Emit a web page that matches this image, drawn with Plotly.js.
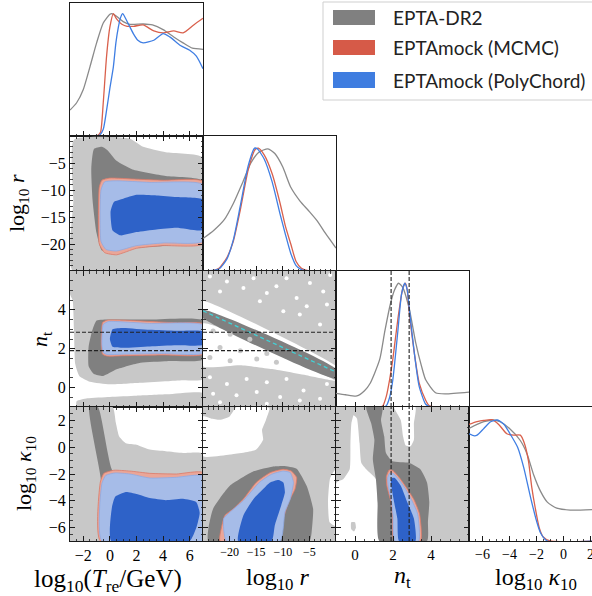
<!DOCTYPE html>
<html><head><meta charset="utf-8">
<script src="https://cdn.plot.ly/plotly-3.0.1.min.js"></script>
<style>html,body{margin:0;padding:0;background:#fff;}#plot{width:592px;height:596px;}</style>
</head><body><div id="plot"></div>
<script>
// ---------- tick labels ----------
const T_ticks = [-2, 0, 2, 4, 6];
const r_ticks = [-20, -15, -10, -5];
const n_ticks = [0, 2, 4];
const k_ticks = [-6, -4, -2, 0, 2];
const nt_marks = [1.9, 2.85];

// ---------- 1D marginals (normalised density) ----------
const T_gray_x = [-3,-2.5,-2,-1.5,-1,-0.5,0,0.15,0.5,1,1.5,2.5,3.2,4,4.8,5.5,6.2,7];
const T_gray_y = [0.195,0.25,0.35,0.52,0.7,0.85,0.915,0.92,0.9,0.86,0.84,0.842,0.835,0.8,0.745,0.7,0.66,0.652];
const T_red_x = [-3,-1.2,-0.9,-0.7,-0.5,-0.25,0,0.26,0.5,0.9,1.3,1.8,2.5,3.3,4.0,4.8,5.5,6.3,7];
const T_red_y = [0,0,0.005,0.03,0.25,0.6,0.82,0.92,0.88,0.84,0.825,0.825,0.835,0.79,0.775,0.79,0.775,0.835,0.885];
const T_blue_x = [-3,-1,-0.74,-0.5,-0.24,0,0.26,0.45,0.64,0.8,0.96,1.2,1.76,2.1,2.5,3.3,4.0,4.5,5.3,6.0,6.5,7];
const T_blue_y = [0,0,0.01,0.05,0.2,0.36,0.52,0.7,0.82,0.89,0.92,0.88,0.77,0.72,0.70,0.72,0.77,0.745,0.68,0.645,0.6,0.506];

const r_gray_x = [-25,-23,-21,-19.3,-17.5,-16,-14.5,-12.8,-11.5,-10,-8.5,-6.8,-5,-3.5,-2,0];
const r_gray_y = [0.24,0.30,0.38,0.50,0.66,0.80,0.88,0.905,0.87,0.77,0.62,0.52,0.44,0.37,0.28,0.17];
const r_red_x = [-25,-23,-22,-20.5,-19.3,-18,-16.5,-15.2,-14.6,-13.5,-12,-10.5,-9.5,-8.5,-7.5,-6.5,-5,0];
const r_red_y = [0,0.005,0.02,0.1,0.22,0.45,0.75,0.9,0.91,0.86,0.72,0.5,0.33,0.2,0.07,0.02,0,0];
const r_blue_x = [-25,-22,-20.5,-19.3,-18,-16.5,-15.3,-14.8,-13.5,-12,-10.5,-9.5,-8.5,-7.5,-6.5,-5,0];
const r_blue_y = [0,0.015,0.09,0.23,0.48,0.78,0.91,0.905,0.83,0.66,0.42,0.27,0.13,0.04,0.01,0,0];

const n_gray_x = [-1,-0.5,0.1,0.5,0.8,1.3,1.56,1.85,2.08,2.29,2.51,2.86,3.2,3.5,3.72,4.24,4.76,6];
const n_gray_y = [0.10,0.09,0.081,0.12,0.175,0.35,0.55,0.75,0.86,0.91,0.88,0.72,0.47,0.3,0.2,0.105,0.097,0.11];
const n_red_x = [-1,1.3,1.47,1.65,1.82,1.99,2.25,2.51,2.65,2.75,2.86,3.12,3.38,3.72,3.9,4.2,6];
const n_red_y = [0,0,0.01,0.08,0.2,0.35,0.64,0.87,0.91,0.86,0.69,0.40,0.175,0.05,0.01,0,0];
const n_blue_x = [-1,1.5,1.65,1.82,1.99,2.25,2.45,2.62,2.75,2.86,3.12,3.38,3.72,3.9,4.2,6];
const n_blue_y = [0,0,0.01,0.07,0.2,0.55,0.83,0.91,0.86,0.72,0.40,0.15,0.02,0.005,0,0];

const k_gray_x = [-7,-6.4,-5.9,-5.2,-4.7,-4.0,-3.2,-2.7,-2.2,-1.7,-1.2,-0.5,0.5,2.2];
const k_gray_y = [0.84,0.87,0.89,0.903,0.89,0.84,0.75,0.65,0.49,0.37,0.29,0.245,0.231,0.235];
const k_red_x = [-7,-6.4,-5.9,-5.3,-4.8,-4.2,-3.7,-3.2,-2.9,-2.6,-2.35,-2.1,-1.8,-1.5,-1.0,2.2];
const k_red_y = [0.87,0.89,0.9,0.905,0.87,0.8,0.79,0.79,0.73,0.6,0.4,0.25,0.1,0.03,0,0];
const k_blue_x = [-7,-6.6,-6.4,-5.9,-5.4,-4.9,-4.4,-3.9,-3.4,-2.95,-2.45,-2.0,-1.7,-1.2,2.2];
const k_blue_y = [0.8,0.785,0.79,0.84,0.89,0.903,0.87,0.79,0.70,0.55,0.33,0.15,0.06,0,0];

// ---------- 2D credible regions (outline vertices) ----------
// log10 r vs log10 T_re
const TR_g95 = [[-2.7,-0.7],[1.5,-0.5],[2.5,-2.0],[4.2,-3.0],[7,-4.0],[7,-25],[-2.8,-25],[-2.75,-12]];
const TR_g68 = [[-1.2,-2.4],[-0.6,-2.0],[-0.2,-2.6],[0.5,-4.6],[1.7,-6.2],[4.2,-7.4],[7,-8.3],[7,-19],[0,-21],[-0.6,-21.2],[-1.0,-18],[-1.3,-12],[-1.4,-6]];
const TR_r95 = [[-0.8,-9.5],[-0.6,-8.2],[0,-7.8],[2,-8.0],[4,-8.2],[7,-8.4],[7,-20.0],[4,-20.3],[2,-20.8],[0.5,-22.0],[-0.4,-21.6],[-0.8,-20]];
const TR_b95 = [[-0.67,-10],[-0.4,-8.5],[0.5,-8.3],[3,-8.6],[7,-9.0],[7,-19.5],[4,-19.8],[2,-20.3],[0.5,-21.3],[-0.3,-21.0],[-0.67,-19.5]];
const TR_b68 = [[0.05,-14],[0.3,-12.2],[1,-11.6],[2,-10.9],[3.5,-11.0],[5,-11.3],[7,-11.8],[7,-17.4],[5,-17.0],[3.5,-17.3],[2,-17.8],[0.8,-18.4],[0.2,-17.5]];
// n_t vs log10 T_re
const TN_g95a = [[-3,6],[7,6],[7,0.43],[5.5,0.38],[4.3,0.33],[2.3,0.25],[0,0.17],[-1.5,0.3],[-2.3,0.6],[-2.6,1.2],[-2.7,3],[-2.8,4.5],[-3,4.8]];
const TN_g95b = [[-2.5,-1],[-2.5,-0.7],[-1.7,-0.55],[0,-0.48],[2,-0.42],[4.3,-0.35],[7,-0.28],[7,-1]];
const TN_g68 = [[-1.0,3.45],[0,3.5],[3,3.5],[7,3.45],[7,1.45],[4.3,1.36],[2.3,1.28],[0.5,0.94],[-0.5,0.6],[-1.2,0.7],[-1.6,1.1],[-1.6,2.1],[-1.3,3.0]];
const TN_r95 = [[-0.65,2.2],[-0.55,3.35],[-0.2,3.47],[1,3.47],[3,3.4],[5,3.33],[7,3.28],[7,1.72],[4,1.68],[1,1.64],[-0.2,1.62],[-0.55,1.72]];
const TN_b95 = [[-0.6,2.2],[-0.5,3.25],[-0.1,3.4],[1,3.38],[3,3.3],[7,3.22],[7,1.78],[4,1.75],[1,1.72],[-0.2,1.7],[-0.5,1.8]];
const TN_b68 = [[0,2.5],[0.2,3.0],[1,3.07],[3,2.97],[5,2.92],[7,2.88],[7,2.2],[5,2.18],[3,2.12],[1,2.05],[0.2,2.1]];
// n_t vs log10 r
const RN_g95 = [[-25,6],[0,6],[0,-1],[-25,-1]];
const RN_wBand = [[-25,4.45],[0,1.1],[0,0.95],[-25,4.0]];
const RN_g68 = [[-25,4.0],[0,0.95],[0,0.45],[-25,3.6]];
const RN_wLow = [[-25,3.3],[-12,1.85],[0,0.35],[-5,0.6],[-12,0.95],[-18,1.15],[-25,1.1]];
const RN_degen_r = [-25, 0];
const RN_degen_n = [3.95, 0.80];
const RN_holes_r = [-23.7,-20.5,-15.5,-9.3,-4.9,-1.1,-21.8,-17.4,-11.2,-13.0,-7.4,-2.4,-5.5,-1.7,-9.9,-6.8,-3.0,-14.3,-23.7,-20.5,-16.8,-13.0,-9.3,-23.1,-18.7,-14.9,-10.5,-6.1,-3.0,-21.8,-13.0,-6.8,-1.7];
const RN_holes_n = [5.72,5.46,5.63,5.63,5.38,5.80,4.95,5.12,5.21,4.87,4.61,4.95,4.19,4.27,3.93,3.76,3.25,4.44,0.53,0.19,0.44,0.28,0.44,-0.32,-0.40,-0.23,-0.49,-0.15,-0.57,-0.75,-0.83,-0.66,0.19];
const RN_blobs_r = [-23.1,-19.9,-16.2,-21.8,-18.0,-13.0,-23.7,-19.9,-14.9,-11.2];
const RN_blobs_n = [2.91,2.74,2.49,2.06,1.89,1.75,1.55,1.38,1.47,1.30];
// log10 kappa10 vs log10 T_re
const TK_g95 = [[-3,3],[0.2,3],[0.45,1.8],[0.7,0.8],[1.2,0.3],[2,0.19],[3,-0.18],[4.2,-0.3],[5.5,-0.43],[7,-0.48],[7,-7],[-3,-7]];
const TK_g68 = [[-1.55,3],[-0.9,3],[0.2,-1.75],[1,-1.9],[3,-2.2],[7,-2.3],[7,-7],[-0.6,-7],[-0.66,-2.5]];
const TK_r95 = [[-0.72,-7],[-0.72,-2.6],[-0.45,-1.95],[0.3,-1.72],[1.5,-1.78],[3,-1.95],[5,-2.0],[7,-1.9],[7,-7]];
const TK_b95 = [[-0.6,-7],[-0.6,-2.7],[-0.3,-2.1],[0.4,-1.92],[1.5,-2.0],[3,-2.3],[5,-2.25],[7,-2.15],[7,-7]];
const TK_b68 = [[0.1,-7],[0.15,-4.5],[0.4,-3.7],[1.2,-3.35],[2,-3.5],[3,-3.8],[4.2,-3.95],[5.5,-3.85],[6.5,-4.1],[6.75,-4.9],[6.5,-6],[6.0,-7]];
// log10 kappa10 vs log10 r
const RK_g95 = [[-25,3],[0,3],[0,-7],[-25,-7]];
const RK_w1 = [[-25,2.3],[-23.5,2.15],[-21.8,2.05],[-20,2.3],[-18.7,3],[-13,3],[-12.5,2.88],[-13.2,2.0],[-13.9,1.3],[-13.7,0.55],[-15,-0.18],[-19.9,-0.55],[-25,-0.67]];
const RK_w2 = [[0,-1.6],[-1.1,-2.3],[-1.5,-4],[-1.2,-5.6],[0,-5.9]];
const RK_g68 = [[-24,-7],[-24,-6.1],[-23.1,-4.6],[-20,-2.9],[-15.5,-1.8],[-12,-1.45],[-9.9,-1.4],[-7.4,-1.6],[-5.5,-2.9],[-4.3,-4.6],[-4.5,-6],[-5,-7]];
const RK_r95 = [[-21.8,-7],[-21.5,-5.94],[-20.9,-5.1],[-19.3,-4.6],[-17.4,-3.86],[-15,-2.63],[-12.4,-1.9],[-9.9,-1.65],[-8.4,-1.78],[-7.4,-2.26],[-7.7,-3.12],[-8.9,-4.1],[-9.9,-5.33],[-10.8,-7]];
const RK_b95 = [[-20.6,-7],[-21.1,-5.33],[-19.9,-4.84],[-17.4,-3.98],[-14.4,-2.63],[-12.1,-2.02],[-9.9,-1.78],[-8.6,-1.9],[-8.0,-2.63],[-8.6,-3.86],[-9.6,-4.84],[-10.5,-7]];
const RK_b68 = [[-18.4,-7],[-17.4,-5.08],[-15.5,-3.86],[-13.7,-3.12],[-12.4,-2.63],[-10.8,-2.44],[-9.9,-2.63],[-9.6,-3.37],[-10.3,-4.35],[-11.5,-5.82],[-12.1,-7]];
// log10 kappa10 vs n_t
const NK_g95 = [[-1,3],[6,3],[6,-7],[-1,-7]];
const NK_wL = [[-0.07,2.39],[0.10,2.15],[0.24,0.31],[0.33,-1.16],[0.59,-1.65],[1.11,-2.39],[1.19,-4.10],[1.28,-7],[-0.97,-7],[-0.97,-2.63],[-0.62,-2.39],[-0.28,-1.65],[-0.24,0.31],[-0.19,1.78]];
const NK_gBlob = [[-0.2,-5.6],[0.0,-5.6],[0.05,-6.0],[-0.05,-6.3],[-0.2,-6.1]];
const NK_wTop = [[2.06,3],[3.18,3],[3.10,1.78],[3.10,0.55],[2.93,0.07],[2.67,0.12],[2.53,0.8],[2.41,2.02]];
const NK_g68 = [[0.59,3],[1.45,3],[1.37,2.02],[1.54,0.80],[1.63,-0.43],[1.97,-1.04],[2.84,-1.16],[3.44,-1.65],[3.79,-2.63],[3.91,-4.10],[3.84,-5.57],[3.79,-7],[1.28,-7],[1.19,-4.10],[1.10,-2.39],[0.94,-0.92],[1.02,0.55],[0.85,1.78]];
const NK_r95 = [[2.06,-7],[1.97,-5.1],[1.89,-4.1],[1.68,-2.9],[1.65,-2.2],[1.80,-1.7],[2.0,-1.75],[2.35,-2.3],[2.7,-3.0],[3.1,-3.9],[3.4,-5.0],[3.45,-7]];
const NK_b95 = [[2.1,-7],[2.0,-5.1],[1.93,-4.1],[1.75,-2.9],[1.72,-2.3],[1.82,-1.95],[2.0,-1.95],[2.3,-2.4],[2.65,-3.1],[3.0,-4.0],[3.3,-5.0],[3.35,-7]];
const NK_b68 = [[2.32,-7],[2.23,-5.33],[2.06,-4.1],[1.89,-2.63],[1.95,-2.3],[2.1,-2.3],[2.41,-2.88],[2.75,-4.1],[3.10,-5.33],[3.18,-7]];

// ---------- styling ----------
const C = {lg:'#c8c8c8', dg:'#808080', rl:'#eaa698', rline:'#dc7a68', bl:'#a6bce8', bline:'#8eaae2', bd:'#2e62c8',
           gline:'#8a8a8a', red:'#d9604c', blue:'#3f7ee3', white:'#ffffff'};
const SERIF = "'Liberation Serif', 'Times New Roman', 'DejaVu Serif', serif";

const traces = [];
function poly(pts, xa, ya, fill, lc, lw) {
  const xs = pts.map(p => p[0]); xs.push(pts[0][0]);
  const ys = pts.map(p => p[1]); ys.push(pts[0][1]);
  traces.push({type:'scatter', mode:'lines', x:xs, y:ys, fill:'toself', fillcolor:fill,
    line:{color: lc || fill, width: lw || 0, shape:'spline', smoothing:0.5}, xaxis:xa, yaxis:ya, hoverinfo:'skip', showlegend:false});
}
function curve(xs, ys, xa, ya, color) {
  traces.push({type:'scatter', mode:'lines', x:xs, y:ys, line:{color:color, width:1.3, shape:'spline', smoothing:0.6},
    xaxis:xa, yaxis:ya, hoverinfo:'skip', showlegend:false});
}
function stack(set, xa, ya) {
  set.forEach(s => poly(s[0], xa, ya, s[1], s[2], s[3]));
}

// Diagonals
curve(T_gray_x, T_gray_y, 'x', 'y', C.gline); curve(T_red_x, T_red_y, 'x', 'y', C.red); curve(T_blue_x, T_blue_y, 'x', 'y', C.blue);
curve(r_gray_x, r_gray_y, 'x3', 'y3', C.gline); curve(r_red_x, r_red_y, 'x3', 'y3', C.red); curve(r_blue_x, r_blue_y, 'x3', 'y3', C.blue);
curve(n_gray_x, n_gray_y, 'x6', 'y6', C.gline); curve(n_red_x, n_red_y, 'x6', 'y6', C.red); curve(n_blue_x, n_blue_y, 'x6', 'y6', C.blue);
curve(k_gray_x, k_gray_y, 'x10', 'y10', C.gline); curve(k_red_x, k_red_y, 'x10', 'y10', C.red); curve(k_blue_x, k_blue_y, 'x10', 'y10', C.blue);

// 2D panels
stack([[TR_g95, C.lg],[TR_g68, C.dg],[TR_r95, C.rl, C.rline, 0.8],[TR_b95, C.bl, C.bline, 0.8],[TR_b68, C.bd]], 'x2', 'y2');
stack([[TN_g95a, C.lg],[TN_g95b, C.lg],[TN_g68, C.dg],[TN_r95, C.rl, C.rline, 0.8],[TN_b95, C.bl, C.bline, 0.8],[TN_b68, C.bd]], 'x4', 'y4');
stack([[RN_g95, C.lg],[RN_wBand, C.white],[RN_wLow, C.white],[RN_g68, C.dg]], 'x5', 'y5');
traces.push({type:'scatter', mode:'markers', x:RN_holes_r, y:RN_holes_n, marker:{color:C.white, size:4, line:{width:0}}, xaxis:'x5', yaxis:'y5', hoverinfo:'skip', showlegend:false});
traces.push({type:'scatter', mode:'markers', x:RN_blobs_r, y:RN_blobs_n, marker:{color:C.lg, size:5, line:{width:0}}, xaxis:'x5', yaxis:'y5', hoverinfo:'skip', showlegend:false});
traces.push({type:'scatter', mode:'lines', x:RN_degen_r, y:RN_degen_n, line:{color:'#3fd3d8', width:1.3, dash:'4px,3px'}, xaxis:'x5', yaxis:'y5', hoverinfo:'skip', showlegend:false});
stack([[TK_g95, C.lg],[TK_g68, C.dg],[TK_r95, C.rl, C.rline, 0.8],[TK_b95, C.bl, C.bline, 0.8],[TK_b68, C.bd]], 'x7', 'y7');
stack([[RK_g95, C.lg],[RK_w1, C.white],[RK_w2, C.white],[RK_g68, C.dg],[RK_r95, C.rl, C.rline, 0.8],[RK_b95, C.bl, C.bline, 0.8],[RK_b68, C.bd]], 'x8', 'y8');
stack([[NK_g95, C.lg],[NK_wL, C.white],[NK_gBlob, C.lg],[NK_wTop, C.white],[NK_g68, C.dg],[NK_r95, C.rl, C.rline, 0.8],[NK_b95, C.bl, C.bline, 0.8],[NK_b68, C.bd]], 'x9', 'y9');

// ---------- axes ----------
const PX = v => v / 592, PY = v => 1 - v / 596;
const colD = [[PX(70), PX(203)], [PX(203), PX(336)], [PX(336), PX(469)], [PX(469), 1]];
const rowD = [[PY(136), PY(3)], [PY(271), PY(136)], [PY(407), PY(271)], [PY(541), PY(407)]];
const RANGES = {T:[-3,7], r:[-25,0], n:[-1,6], k:[-7,3], k4:[-7,2.11]};
const TICKS = {T:T_ticks, r:r_ticks, n:n_ticks, k:k_ticks, k4:k_ticks};
const MINOR = {T:0.5, r:1, n:0.5, k:0.5, k4:0.5};

function axis(dom, key, anchor, o) {
  return Object.assign({domain:dom, range:RANGES[key], anchor:anchor, showgrid:false, zeroline:false,
    showline:true, linecolor:'#1a1a1a', linewidth:1, mirror:'allticks', ticks:'inside', ticklen:5, tickwidth:1, tickcolor:'#1a1a1a',
    tickmode:'array', tickvals:TICKS[key], showticklabels:false, ticklabeloverflow:'allow',
    tickfont:{family:SERIF, size:16, color:'#000'},
    minor:{ticks:'inside', ticklen:2.5, tickwidth:0.8, tickcolor:'#1a1a1a', tickmode:'linear', tick0:0, dtick:MINOR[key], showgrid:false},
    fixedrange:true}, o || {});
}
function diagY(dom, anchor, o) {
  return Object.assign({domain:dom, range:[0,1], anchor:anchor, showgrid:false, zeroline:false, showline:true,
    linecolor:'#1a1a1a', linewidth:1, mirror:true, ticks:'', showticklabels:false, fixedrange:true}, o || {});
}

const layout = {
  width:592, height:596, margin:{l:0, r:0, t:0, b:0}, paper_bgcolor:'#fff', plot_bgcolor:'#fff', showlegend:false,
  xaxis: axis(colD[0], 'T', 'y', {mirror:true}), yaxis: diagY(rowD[0], 'x'),
  xaxis2: axis(colD[0], 'T', 'y2'), yaxis2: axis(rowD[1], 'r', 'x2', {showticklabels:true}),
  xaxis3: axis(colD[1], 'r', 'y3', {mirror:true}), yaxis3: diagY(rowD[1], 'x3'),
  xaxis4: axis(colD[0], 'T', 'y4'), yaxis4: axis(rowD[2], 'n', 'x4', {showticklabels:true}),
  xaxis5: axis(colD[1], 'r', 'y5'), yaxis5: axis(rowD[2], 'n', 'x5'),
  xaxis6: axis(colD[2], 'n', 'y6', {mirror:true}), yaxis6: diagY(rowD[2], 'x6'),
  xaxis7: axis(colD[0], 'T', 'y7', {showticklabels:true, tickfont:{family:SERIF, size:16, color:'#000'}}),
  yaxis7: axis(rowD[3], 'k', 'x7', {showticklabels:true}),
  xaxis8: axis(colD[1], 'r', 'y8', {showticklabels:true, tickfont:{family:SERIF, size:12, color:'#000'}}),
  yaxis8: axis(rowD[3], 'k', 'x8'),
  xaxis9: axis(colD[2], 'n', 'y9', {showticklabels:true, tickfont:{family:SERIF, size:15, color:'#000'}}),
  yaxis9: axis(rowD[3], 'k', 'x9'),
  xaxis10: axis(colD[3], 'k4', 'y10', {mirror:true, showticklabels:true, tickfont:{family:SERIF, size:14, color:'#000'}}),
  yaxis10: diagY(rowD[3], 'x10', {mirror:false}),
  shapes: [], annotations: []
};

// dashed n_t markers
const dash = {color:'#222', width:1.1, dash:'4px,2px'};
nt_marks.forEach(v => {
  layout.shapes.push({type:'line', xref:'x4 domain', yref:'y4', x0:0, x1:1, y0:v, y1:v, line:dash});
  layout.shapes.push({type:'line', xref:'x5 domain', yref:'y5', x0:0, x1:1, y0:v, y1:v, line:dash});
  layout.shapes.push({type:'line', xref:'x6', yref:'y6 domain', x0:v, x1:v, y0:0, y1:1, line:dash});
  layout.shapes.push({type:'line', xref:'x9', yref:'y9 domain', x0:v, x1:v, y0:0, y1:1, line:dash});
});

// legend box
const legNames = ['EPTA-DR2', 'EPTAmock (MCMC)', 'EPTAmock (PolyChord)'];
const legColors = ['#808080', '#d65a48', '#3f7de0'];
const legRows = [[10, 25], [40, 55], [72, 88]];
layout.shapes.push({type:'rect', xref:'paper', yref:'paper', x0:PX(323), x1:1.05, y0:PY(100), y1:PY(2), line:{color:'#cfcfcf', width:1}, fillcolor:'#fff'});
legNames.forEach((name, i) => {
  layout.shapes.push({type:'rect', xref:'paper', yref:'paper', x0:PX(333), x1:PX(375), y0:PY(legRows[i][1]), y1:PY(legRows[i][0]), line:{width:0}, fillcolor:legColors[i]});
  layout.annotations.push({xref:'paper', yref:'paper', x:PX(391), y:PY((legRows[i][0]+legRows[i][1])/2), xanchor:'left', yanchor:'middle',
    text:name, showarrow:false, font:{family:'Lato', size:19, color:'#222'}});
});

// axis titles
const titleFont = {family:SERIF, size:24, color:'#000'};
const titleFontWide = {family:SERIF, size:25, color:'#000'};
const ytitleFont = {family:SERIF, size:22, color:'#000'};
layout.annotations.push(
  {xref:'paper', yref:'paper', x:PX(108), y:PY(580), text:'log<sub>10</sub>(<i>T</i><sub>re</sub>/GeV)', showarrow:false, font:titleFontWide, xanchor:'center', yanchor:'middle'},
  {xref:'paper', yref:'paper', x:PX(277), y:PY(579), text:'log<sub>10</sub> <i>r</i>', showarrow:false, font:titleFont, xanchor:'center', yanchor:'middle'},
  {xref:'paper', yref:'paper', x:PX(402), y:PY(577), text:'<i>n</i><sub>t</sub>', showarrow:false, font:titleFont, xanchor:'center', yanchor:'middle'},
  {xref:'paper', yref:'paper', x:PX(536), y:PY(579), text:'log<sub>10</sub> <i>κ</i><sub>10</sub>', showarrow:false, font:titleFont, xanchor:'center', yanchor:'middle'},
  {xref:'paper', yref:'paper', x:PX(18), y:PY(203), text:'log<sub>10</sub> <i>r</i>', showarrow:false, font:ytitleFont, textangle:-90, xanchor:'center', yanchor:'middle'},
  {xref:'paper', yref:'paper', x:PX(41), y:PY(339), text:'<i>n</i><sub>t</sub>', showarrow:false, font:ytitleFont, textangle:-90, xanchor:'center', yanchor:'middle'},
  {xref:'paper', yref:'paper', x:PX(25), y:PY(474), text:'log<sub>10</sub> <i>κ</i><sub>10</sub>', showarrow:false, font:ytitleFont, textangle:-90, xanchor:'center', yanchor:'middle'}
);

Plotly.newPlot('plot', traces, layout, {staticPlot:true, displayModeBar:false});
</script></body></html>
